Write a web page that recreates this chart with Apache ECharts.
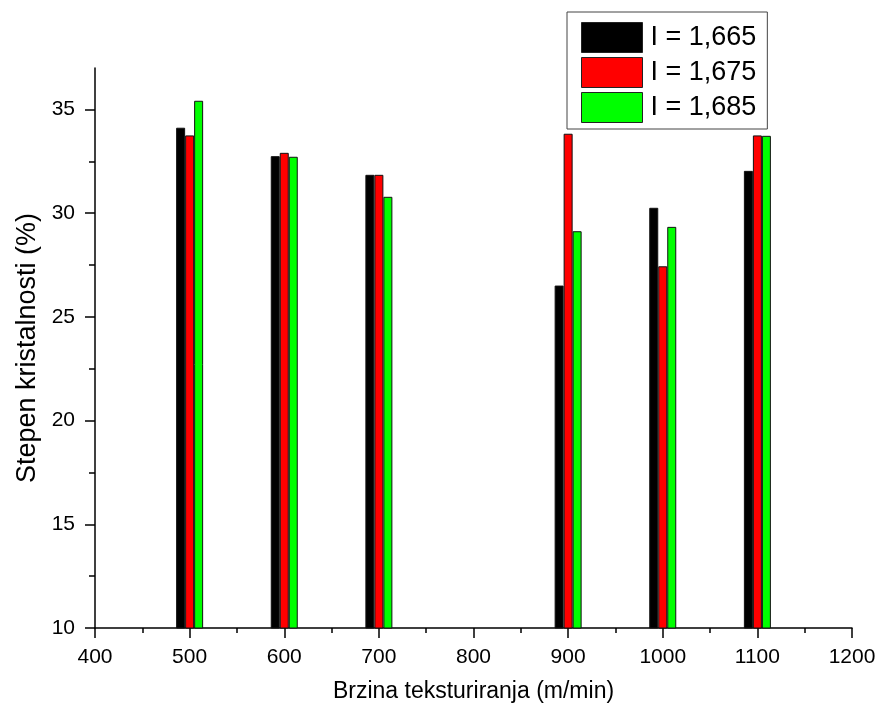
<!DOCTYPE html>
<html>
<head>
<meta charset="utf-8">
<script src="https://cdn.jsdelivr.net/npm/echarts@6/dist/echarts.min.js"></script>
<style>
html,body{margin:0;padding:0;background:#fff;}
#chart{width:880px;height:716px;}
</style>
</head>
<body>
<div id="chart"></div>
<script>
const speeds = [500, 600, 700, 900, 1000, 1100];
const seriesNames = ['I = 1,665', 'I = 1,675', 'I = 1,685'];
const s1665 = [34.12, 32.75, 31.85, 26.51, 30.26, 32.04];
const s1675 = [33.75, 32.91, 31.85, 33.83, 27.44, 33.75];
const s1685 = [35.42, 32.72, 30.79, 29.13, 29.34, 33.73];
const yMajorTicks = [10, 15, 20, 25, 30, 35];
const yMinorTicks = [12.5, 17.5, 22.5, 27.5, 32.5];
const colors = ['#000000', '#ff0000', '#00ff00'];

const font = 'Arial, "Liberation Sans", Helvetica, sans-serif';
const allValues = [s1665, s1675, s1685];

const chart = echarts.init(document.getElementById('chart'), null, {renderer: 'canvas'});
chart.setOption({
  animation: false,
  backgroundColor: '#ffffff',
  grid: {left: 95, right: 28, top: 68, bottom: 88, containLabel: false},
  legend: {
    orient: 'vertical',
    left: 567,
    top: 12,
    padding: [10, 11, 6, 14],
    itemWidth: 61,
    itemHeight: 30,
    itemGap: 4,
    borderColor: '#444',
    borderWidth: 1,
    icon: 'rect',
    textStyle: {fontFamily: font, fontSize: 27, color: '#000', padding: [0, 0, 0, 3]},
    data: seriesNames.map((n, i) => ({name: n, itemStyle: {color: colors[i], borderColor: '#222', borderWidth: 1}}))
  },
  xAxis: {
    type: 'value',
    min: 400, max: 1200, interval: 100,
    name: 'Brzina teksturiranja (m/min)',
    nameLocation: 'middle',
    nameGap: 52,
    nameTextStyle: {fontFamily: font, fontSize: 23, color: '#000'},
    axisLine: {show: true, onZero: false, lineStyle: {color: '#000', width: 1.5}},
    axisTick: {show: true, inside: false, length: 10, lineStyle: {color: '#000', width: 1.5}},
    minorTick: {show: true, splitNumber: 2, length: 5, lineStyle: {color: '#000', width: 1.5}},
    axisLabel: {fontFamily: font, fontSize: 21, color: '#000', margin: 19, formatter: v => String(v)},
    splitLine: {show: false}
  },
  yAxis: [{
    type: 'value',
    min: 10, max: 37, interval: 5,
    name: 'Stepen kristalnosti (%)',
    nameLocation: 'middle',
    nameGap: 53,
    nameTextStyle: {fontFamily: font, fontSize: 27, color: '#000'},
    axisLine: {show: true, onZero: false, lineStyle: {color: '#000', width: 1.5}},
    axisTick: {show: true, inside: false, length: 10, customValues: yMajorTicks, lineStyle: {color: '#000', width: 1.5}},
    axisLabel: {fontFamily: font, fontSize: 21, color: '#000', margin: 20, customValues: yMajorTicks, formatter: v => String(v)},
    splitLine: {show: false}
  }, {
    type: 'value',
    position: 'left',
    min: 10, max: 37, interval: 5,
    axisLine: {show: false},
    axisTick: {show: true, inside: false, length: 6, customValues: yMinorTicks, lineStyle: {color: '#000', width: 1.5}},
    axisLabel: {show: false},
    splitLine: {show: false}
  }],
  series: allValues.map((vals, i) => ({
    name: seriesNames[i],
    type: 'bar',
    yAxisIndex: 0,
    barWidth: 9,
    barGap: '0%',
    itemStyle: {color: colors[i], borderColor: '#111', borderWidth: 1},
    data: speeds.map((x, j) => [x, vals[j]])
  }))
});
</script>
</body>
</html>
